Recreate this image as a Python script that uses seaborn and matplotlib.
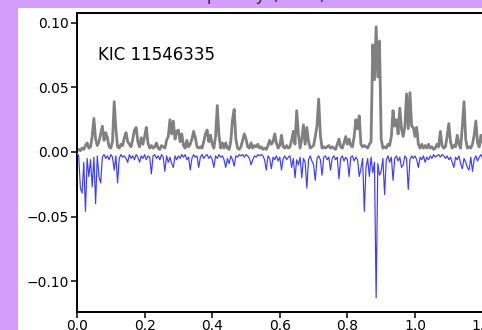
import numpy as np
import pandas as pd
import matplotlib
matplotlib.use("Agg")
import matplotlib.pyplot as plt
from matplotlib.patches import Rectangle
import seaborn as sns

# frequency grid (mHz), step 0.005
freq_step = 0.005
# upper spectrum (gray), in units of 1e-3
gray_milli = [
    1, 2, 1, 3, 2, 5, 7, 3, 4, 12, 26, 10, 5, 8, 14, 20, 9, 15, 11, 4,
    3, 8, 39, 18, 4, 3, 6, 5, 11, 15, 8, 6, 4, 10, 17, 19, 8, 4, 11, 6,
    12, 19, 7, 3, 5, 3, 4, 7, 3, 2, 5, 4, 3, 9, 12, 25, 14, 24, 10, 16,
    17, 8, 14, 5, 3, 9, 4, 6, 10, 16, 11, 4, 3, 4, 3, 8, 14, 17, 8, 13,
    6, 3, 12, 36, 13, 3, 7, 3, 7, 3, 2, 8, 25, 33, 10, 3, 2, 4, 9, 14,
    10, 4, 3, 7, 3, 5, 4, 6, 3, 4, 2, 3, 2, 5, 9, 6, 8, 14, 7, 3,
    5, 13, 4, 3, 5, 3, 4, 9, 16, 6, 32, 14, 3, 10, 21, 6, 19, 8, 3, 4,
    5, 12, 20, 41, 13, 3, 4, 3, 4, 5, 3, 4, 3, 2, 6, 10, 4, 3, 7, 12,
    6, 10, 5, 4, 12, 25, 18, 28, 6, 4, 5, 4, 3, 6, 8, 83, 56, 97, 58, 86,
    10, 3, 4, 3, 6, 5, 12, 32, 20, 25, 14, 34, 18, 12, 20, 45, 18, 46, 20, 19,
    12, 19, 6, 3, 6, 3, 5, 3, 6, 3, 4, 2, 3, 6, 4, 16, 5, 3, 4, 12,
    22, 8, 3, 5, 4, 13, 6, 3, 20, 39, 10, 3, 4, 3, 6, 13, 24, 7, 4, 13,
    8, 4, 6, 3, 5,
]
# lower spectrum (blue), magnitude in units of 1e-3 (plotted as negative)
blue_milli = [
    1, 3, 28, 32, 8, 46, 5, 19, 6, 27, 4, 40, 3, 19, 24, 4, 2, 5, 3, 6,
    2, 4, 14, 3, 24, 5, 2, 4, 3, 5, 8, 2, 5, 3, 6, 2, 4, 8, 3, 5,
    2, 6, 3, 4, 17, 3, 2, 5, 3, 6, 2, 4, 15, 3, 8, 4, 9, 12, 3, 6,
    3, 5, 2, 4, 2, 6, 4, 14, 5, 2, 4, 3, 12, 4, 2, 5, 3, 2, 5, 3,
    6, 12, 3, 5, 2, 4, 3, 6, 12, 5, 9, 3, 6, 11, 3, 4, 2, 3, 2, 4,
    2, 3, 5, 10, 6, 3, 4, 2, 3, 2, 3, 6, 14, 3, 5, 13, 4, 6, 3, 7,
    4, 14, 5, 3, 6, 4, 3, 12, 5, 20, 6, 10, 4, 20, 5, 8, 28, 6, 3, 7,
    10, 22, 5, 3, 6, 18, 4, 3, 6, 4, 14, 5, 3, 6, 4, 21, 5, 3, 7, 4,
    6, 19, 4, 3, 7, 4, 6, 19, 13, 5, 46, 12, 5, 19, 4, 16, 8, 113, 9, 18,
    15, 5, 33, 6, 3, 8, 4, 22, 5, 3, 7, 4, 12, 10, 3, 5, 29, 6, 3, 5,
    3, 6, 12, 4, 6, 3, 8, 4, 6, 3, 5, 2, 4, 3, 2, 4, 2, 3, 5, 3,
    6, 4, 8, 12, 4, 6, 3, 9, 13, 5, 8, 12, 14, 4, 15, 6, 3, 7, 4, 2,
    5, 3, 6, 2, 4,
]
x_ticks = [0.0, 0.2, 0.4, 0.6, 0.8, 1.0, 1.2]
y_ticks = [-0.10, -0.05, 0.00, 0.05, 0.10]
star_label = "KIC 11546335"
top_label = "Frequency (mHz)"

freq = np.arange(len(gray_milli)) * freq_step
df_gray = pd.DataFrame({"freq": freq, "power": np.array(gray_milli) * 1e-3})
df_blue = pd.DataFrame({"freq": np.arange(len(blue_milli)) * freq_step,
                        "power": -np.array(blue_milli) * 1e-3})

sns.set_style("ticks")
plt.rcParams["font.family"] = ["DejaVu Sans"]

W, H = 482, 330
fig = plt.figure(figsize=(W / 100, H / 100), dpi=100)
fig.patch.set_facecolor("#d49dfc")
fig.patches.append(Rectangle((18 / W, 0), 1, (H - 8) / H, transform=fig.transFigure,
                             facecolor="white", edgecolor="none", zorder=-5))

left, right, top, bottom = 77, 499.5, 13, 312
ax = fig.add_axes([left / W, (H - bottom) / H, (right - left) / W, (bottom - top) / H])
ax.set_zorder(5)
ax.set_facecolor("white")

sns.lineplot(data=df_gray, x="freq", y="power", ax=ax, color="#808080",
             linewidth=2.0, estimator=None, zorder=2)
sns.lineplot(data=df_blue, x="freq", y="power", ax=ax, color="#3c3cff",
             linewidth=0.85, estimator=None, zorder=3)

ax.set_xlim(0, 1.25)
ax.set_ylim(-0.124, 0.1077)
ax.set_xticks(x_ticks)
ax.set_xticklabels([f"{t:.1f}" for t in x_ticks])
ax.set_yticks(y_ticks)
ax.set_yticklabels([f"{t:.2f}".replace("-", "\u2212") for t in y_ticks])
ax.set_xlabel("")
ax.set_ylabel("")
ax.tick_params(labelsize=10, colors="black", length=4.5, width=1.1, pad=1.5)
ax.tick_params(axis="x", pad=0.5)
for s in ax.spines.values():
    s.set_visible(True)
    s.set_linewidth(1.4)
    s.set_color("black")

ax.text(0.061, 0.075, star_label, fontsize=12, color="black", va="center", ha="left")
fig.text(250 / W, (H - 4) / H, top_label, fontsize=13, color="#333333",
         ha="center", va="bottom")

fig.savefig("out.png", dpi=100, facecolor=fig.get_facecolor())
